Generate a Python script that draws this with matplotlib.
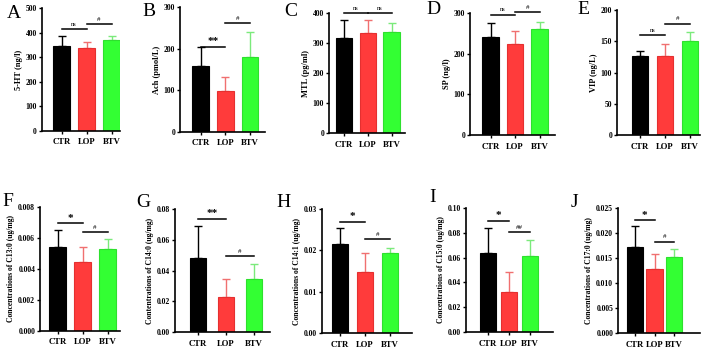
import matplotlib
matplotlib.use("Agg")
import matplotlib.pyplot as plt

W, H = 709, 349
groups = ["CTR", "LOP", "BTV"]

letters = ["A", "B", "C", "D", "E", "F", "G", "H", "I", "J"]
ylabels = ["5-HT (ng/l)", "Ach (pmol/L)", "MTL (pg/ml)", "SP (ng/l)", "VIP (ng/L)",
           "Concentrations of C13:0 (ug/mg)", "Contentrations of C14:0 (ug/mg)",
           "Concentrations of C14:1 (ug/mg)", "Concentrations of C15:0 (ug/mg)",
           "Concentrations of C17:0 (ug/mg)"]

means_A = [346, 336, 369]
errs_A = [42, 25, 19]
means_B = [158.5, 98, 179]
errs_B = [45, 33, 61]
means_C = [317, 333, 337]
errs_C = [59, 43, 32]
means_D = [242, 225, 261]
errs_D = [35, 31, 18]
means_E = [126, 126, 150.5]
errs_E = [8, 20, 14]
means_F = [0.00542, 0.00441, 0.00525]
errs_F = [0.00107, 0.00101, 0.00064]
means_G = [0.0484, 0.0231, 0.0346]
errs_G = [0.0206, 0.0115, 0.0097]
means_H = [0.0216, 0.0148, 0.0193]
errs_H = [0.0037, 0.0047, 0.0012]
means_I = [0.0637, 0.0325, 0.0612]
errs_I = [0.0202, 0.0156, 0.0133]
means_J = [0.01724, 0.0128, 0.01525]
errs_J = [0.0041, 0.0031, 0.00153]

all_means = [means_A, means_B, means_C, means_D, means_E,
             means_F, means_G, means_H, means_I, means_J]
all_errs = [errs_A, errs_B, errs_C, errs_D, errs_E,
            errs_F, errs_G, errs_H, errs_I, errs_J]

ymax = [500, 300, 400, 300, 200, 0.008, 0.08, 0.03, 0.10, 0.025]
ystep = [100, 100, 100, 100, 50, 0.002, 0.02, 0.01, 0.02, 0.005]
yfmt = ["{:.0f}"] * 5 + ["{:.3f}", "{:.2f}", "{:.2f}", "{:.2f}", "{:.3f}"]

# significance: (first group, second group, y level, label)
sig_A = [(0, 1, 414, "ns"), (1, 2, 435, "#")]
sig_B = [(0, 1, 205, "**"), (1, 2, 261, "#")]
sig_C = [(0, 1, 400, "ns"), (1, 2, 400, "ns")]
sig_D = [(0, 1, 296, "ns"), (1, 2, 302, "#")]
sig_E = [(0, 1, 160, "ns"), (1, 2, 178, "#")]
sig_F = [(0, 1, 0.00692, "*"), (1, 2, 0.00634, "#")]
sig_G = [(0, 1, 0.0737, "**"), (1, 2, 0.0495, "#")]
sig_H = [(0, 1, 0.0269, "*"), (1, 2, 0.0227, "#")]
sig_I = [(0, 1, 0.0898, "*"), (1, 2, 0.0804, "##")]
sig_J = [(0, 1, 0.02255, "*"), (1, 2, 0.01824, "#")]
all_sig = [sig_A, sig_B, sig_C, sig_D, sig_E, sig_F, sig_G, sig_H, sig_I, sig_J]

# layout in pixels: left, right, top, bottom, first bar centre, bar spacing
layout = [
    (41.7, 120, 8.3, 130.7, 61.5, 25),
    (180, 265, 7.3, 131.7, 200.5, 24.75),
    (329, 405, 13.3, 133, 344, 23.75),
    (470, 555, 13.3, 135, 490.5, 24.5),
    (617, 700, 10, 135, 640, 25),
    (40, 120, 206.7, 330.7, 57.5, 25),
    (174.5, 270, 209, 332.3, 198, 28),
    (322, 412, 209, 333.3, 340, 25),
    (466, 553, 208, 332, 488, 21),
    (618, 700, 208, 333, 635, 19.5),
]
letter_pos = [(14, 13), (149, 11), (291, 11), (433, 9), (583, 9),
              (8, 201), (143, 203), (284, 203), (433, 198), (574, 203)]

fill_colors = ["#000000", "#FF3B3B", "#33FF33"]
edge_colors = ["#000000", "#E53030", "#2EE02E"]
err_colors = ["#000000", "#F07070", "#7BEA7B"]

serif = ["Liberation Serif", "DejaVu Serif"]
fig = plt.figure(figsize=(W / 100, H / 100), dpi=100)

for i in range(10):
    l, r, t, b, c0, s = layout[i]
    ax = fig.add_axes([l / W, 1 - b / H, (r - l) / W, (b - t) / H])
    x = list(range(3))
    bw = 16.5 / s
    for j in range(3):
        ax.bar(x[j], all_means[i][j], width=bw, color=fill_colors[j],
               edgecolor=edge_colors[j], linewidth=0.8, zorder=2)
        ax.errorbar(x[j], all_means[i][j], yerr=[[0], [all_errs[i][j]]],
                    color=err_colors[j], capsize=3, elinewidth=1, capthick=1,
                    zorder=1)
    ax.set_xlim((l - c0) / s, (r - c0) / s)
    ax.set_ylim(0, ymax[i])
    n = int(round(ymax[i] / ystep[i]))
    yt = [k * ystep[i] for k in range(n + 1)]
    ax.set_yticks(yt)
    ax.set_yticklabels([yfmt[i].format(v) for v in yt], fontsize=5.5,
                       fontweight="bold", family=serif)
    ax.set_xticks(x)
    ax.set_xticklabels(groups, fontsize=6.2, fontweight="bold", family=serif)
    ax.tick_params(axis="y", length=2.5, width=1, pad=1)
    ax.tick_params(axis="x", length=2.5, width=1, pad=3)
    for sp in ["top", "right"]:
        ax.spines[sp].set_visible(False)
    for sp in ["left", "bottom"]:
        ax.spines[sp].set_linewidth(1.2)
    ax.set_ylabel(ylabels[i], fontsize=6 if i < 5 else 5.5, fontweight="bold",
                  family=serif, labelpad=2)
    for (g1, g2, lvl, lab) in all_sig[i]:
        ax.plot([g1, g2], [lvl, lvl], color="black", lw=1.1, clip_on=False)
        if lab.startswith("*"):
            fs = 8
            off = 0.005 * ymax[i]
        elif lab == "ns":
            fs = 4.5
            off = 0.02 * ymax[i]
        else:
            fs = 5
            off = 0.02 * ymax[i]
        ax.text((g1 + g2) / 2, lvl + off, lab, ha="center", va="bottom",
                fontsize=fs, fontweight="bold" if lab.startswith("*") else "normal",
                family=serif, clip_on=False)
    lx, ly = letter_pos[i]
    fig.text(lx / W, 1 - ly / H, letters[i], fontsize=14, family=serif,
             ha="center", va="center")

fig.savefig("out.png", dpi=100)
